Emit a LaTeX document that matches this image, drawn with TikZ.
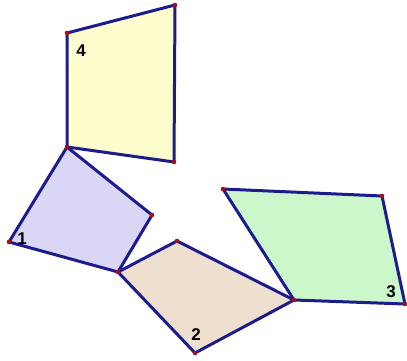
\documentclass[tikz,border=0pt]{standalone}
\usepackage{fontspec}
\setmainfont{Liberation Sans}
\definecolor{edge}{HTML}{1C1C8C}
\definecolor{dotred}{HTML}{A01414}
\definecolor{fyellow}{HTML}{FDFDCE}
\definecolor{fpurple}{HTML}{D9D6F6}
\definecolor{ftan}{HTML}{EFDFCF}
\definecolor{fgreen}{HTML}{CBF7CB}
\tikzset{
  quad/.style={draw=edge, line width=3pt, line join=round},
  vdot/.style={fill=dotred},
  lbl/.style={font=\bfseries\fontsize{17}{17}\selectfont, text=black, inner sep=0pt}
}
\begin{document}
\begin{tikzpicture}[x=1pt,y=-1pt]
\useasboundingbox (0,0) rectangle (407,361);
% vertices
\coordinate (a1) at (67,33);
\coordinate (a2) at (175,5);
\coordinate (a3) at (174,162);
\coordinate (a4) at (67,147);
\coordinate (b2) at (152,215);
\coordinate (b3) at (118,272);
\coordinate (b4) at (9,242);
\coordinate (c2) at (177,241);
\coordinate (c3) at (294,300);
\coordinate (c4) at (195,353);
\coordinate (d1) at (223,189);
\coordinate (d2) at (382,196);
\coordinate (d3) at (405,304);
% quadrilaterals
\filldraw[quad, fill=fyellow] (a1) -- (a2) -- (a3) -- (a4) -- cycle;
\filldraw[quad, fill=fpurple] (a4) -- (b2) -- (b3) -- (b4) -- cycle;
\filldraw[quad, fill=ftan] (b3) -- (c2) -- (c3) -- (c4) -- cycle;
\filldraw[quad, fill=fgreen] (d1) -- (d2) -- (d3) -- (c3) -- cycle;
% vertex dots
\foreach \p in {a1,a2,a3,a4,b2,b3,b4,c2,c3,c4,d1,d2,d3}
  \fill[vdot] (\p) circle (2.3pt);
% labels
\node[lbl] (l4) at (81,51) {4};
\node[lbl] (l1) at (22,239) {1};
\node[lbl] (l2) at (196,335) {2};
\node[lbl] (l3) at (391,292) {3};
\end{tikzpicture}
\end{document}
